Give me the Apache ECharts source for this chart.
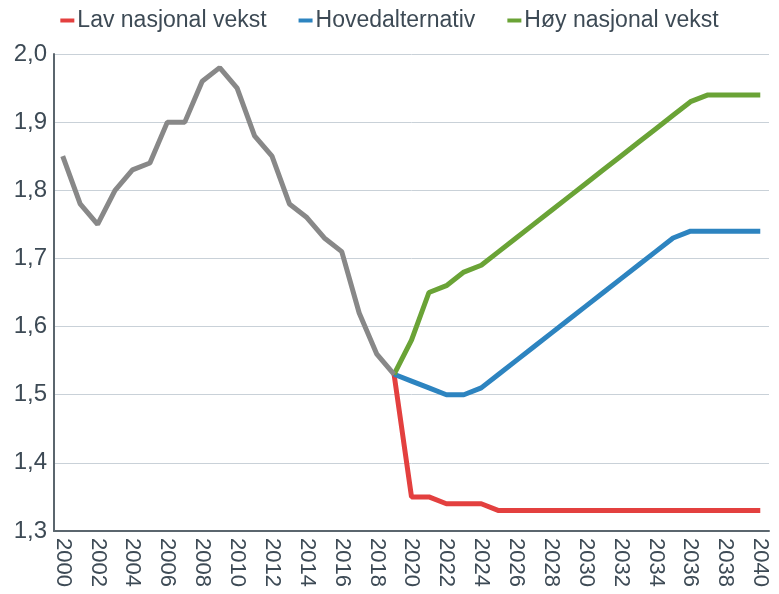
<!DOCTYPE html>
<html>
<head>
<meta charset="utf-8">
<script src="https://cdn.jsdelivr.net/npm/echarts@6/dist/echarts.min.js"></script>
<style>
  html, body { margin: 0; padding: 0; background: #fff; }
  #main { width: 779px; height: 594px; }
</style>
</head>
<body>
<div id="main"></div>
<script>
var years = [];
for (var y = 2000; y <= 2040; y++) years.push(String(y));

// historisk 2000-2019
var historisk = [1.85, 1.78, 1.75, 1.80, 1.83, 1.84, 1.90, 1.90, 1.96, 1.98,
                 1.95, 1.88, 1.85, 1.78, 1.76, 1.73, 1.71, 1.62, 1.56, 1.53];
// framskrivinger 2019-2040
var lav = [1.53, 1.35, 1.35, 1.34, 1.34, 1.34, 1.33, 1.33, 1.33, 1.33, 1.33,
           1.33, 1.33, 1.33, 1.33, 1.33, 1.33, 1.33, 1.33, 1.33, 1.33, 1.33];
var hoved = [1.53, 1.52, 1.51, 1.50, 1.50, 1.51, 1.53, 1.55, 1.57, 1.59, 1.61,
             1.63, 1.65, 1.67, 1.69, 1.71, 1.73, 1.74, 1.74, 1.74, 1.74, 1.74];
var hoy = [1.53, 1.58, 1.65, 1.66, 1.68, 1.69, 1.71, 1.73, 1.75, 1.77, 1.79,
           1.81, 1.83, 1.85, 1.87, 1.89, 1.91, 1.93, 1.94, 1.94, 1.94, 1.94];

function pad(arr, before) {
    var out = [];
    for (var i = 0; i < before; i++) out.push('-');
    return out.concat(arr);
}

var textColor = '#3d4a55';
var axisColor = '#5b666e';

var myChart = echarts.init(document.getElementById('main'));
var option = {
    animation: false,
    textStyle: { fontFamily: 'Liberation Sans, Arial, sans-serif' },
    legend: {
        top: 4,
        left: 'center',
        itemWidth: 14,
        itemHeight: 4,
        itemGap: 32,
        itemStyle: { borderWidth: 0 },
        icon: 'rect',
        textStyle: { color: textColor, fontSize: 23, padding: [0, 0, 0, -2] },
        data: ['Lav nasjonal vekst', 'Hovedalternativ', 'Høy nasjonal vekst']
    },
    grid: {
        left: 54,
        right: 10,
        top: 54,
        bottom: 63,
        containLabel: false
    },
    xAxis: {
        type: 'category',
        data: years,
        boundaryGap: true,
        axisLine: { lineStyle: { color: axisColor, width: 2 } },
        axisTick: { show: false },
        axisLabel: {
            interval: 1,
            rotate: -90,
            color: textColor,
            fontSize: 22,
            margin: 7
        }
    },
    yAxis: {
        type: 'value',
        min: 1.3,
        max: 2.0,
        interval: 0.1,
        axisLine: { show: true, lineStyle: { color: axisColor, width: 2 } },
        axisTick: { show: false },
        splitLine: { lineStyle: { color: '#c9d1d8', width: 1 } },
        axisLabel: {
            color: textColor,
            fontSize: 24,
            margin: 7,
            formatter: function(v) { return v.toFixed(1).replace('.', ','); }
        }
    },
    series: [
        {
            name: 'Historisk',
            type: 'line',
            data: historisk,
            symbol: 'none',
            color: '#888888',
            lineStyle: { width: 5, color: '#888888' },
            z: 5
        },
        {
            name: 'Lav nasjonal vekst',
            type: 'line',
            data: pad(lav, 19),
            symbol: 'none',
            color: '#e3403f',
            lineStyle: { width: 5 },
            z: 3
        },
        {
            name: 'Hovedalternativ',
            type: 'line',
            data: pad(hoved, 19),
            symbol: 'none',
            color: '#2d84c0',
            lineStyle: { width: 5 },
            z: 3
        },
        {
            name: 'Høy nasjonal vekst',
            type: 'line',
            data: pad(hoy, 19),
            symbol: 'none',
            color: '#6aa336',
            lineStyle: { width: 5 },
            z: 3
        }
    ]
};
myChart.setOption(option);
</script>
</body>
</html>
